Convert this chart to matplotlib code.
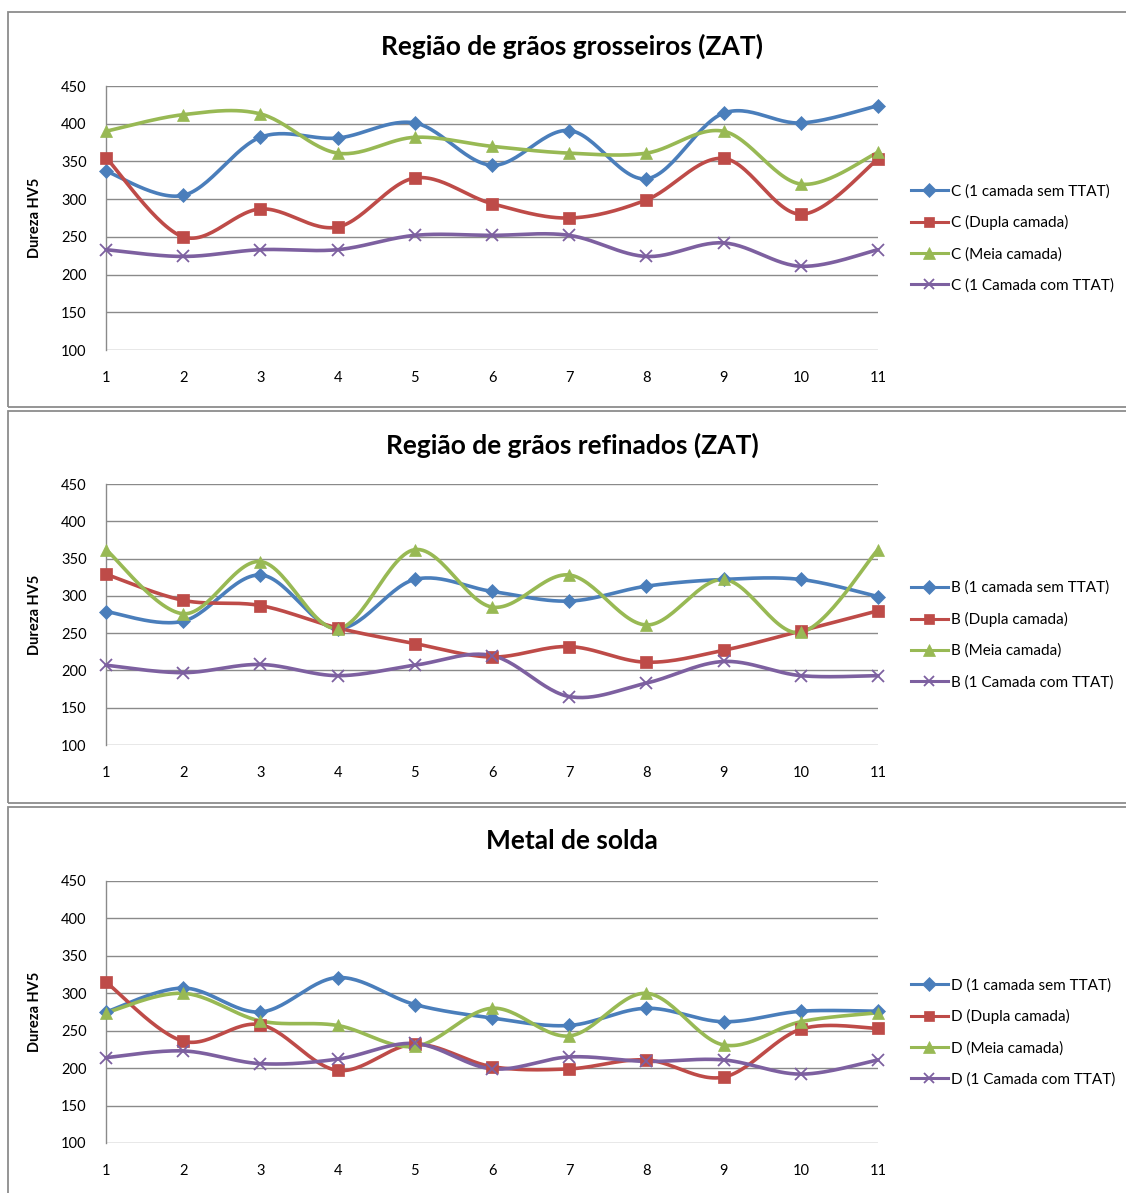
import numpy as np
import matplotlib
matplotlib.use('Agg')
import matplotlib.pyplot as plt
import matplotlib.patches as patches

plt.rcParams['font.family'] = ['Lato', 'DejaVu Sans']

pontos = np.arange(1, 12)

titulos = ['Região de grãos grosseiros (ZAT)',
           'Região de grãos refinados (ZAT)',
           'Metal de solda']
prefixos = ['C', 'B', 'D']
series_nomes = ['(1 camada sem TTAT)', '(Dupla camada)',
                '(Meia camada)', '(1 Camada com TTAT)']

# dureza HV5 - regiao de graos grosseiros (C)
c_sem_ttat = [337, 305, 382, 381, 401, 345, 391, 327, 414, 401, 424]
c_dupla = [355, 250, 287, 263, 328, 294, 275, 299, 354, 280, 353]
c_meia = [390, 412, 413, 361, 382, 370, 361, 361, 390, 320, 362]
c_com_ttat = [233, 224, 233, 233, 252, 252, 252, 224, 242, 211, 233]

# regiao de graos refinados (B)
b_sem_ttat = [279, 266, 328, 256, 322, 306, 293, 313, 322, 322, 299]
b_dupla = [329, 294, 287, 257, 236, 218, 232, 211, 227, 253, 280]
b_meia = [362, 276, 346, 256, 362, 285, 328, 261, 322, 251, 362]
b_com_ttat = [207, 197, 208, 193, 207, 220, 165, 183, 212, 193, 193]

# metal de solda (D)
d_sem_ttat = [275, 307, 275, 321, 285, 267, 257, 280, 262, 276, 276]
d_dupla = [315, 236, 258, 197, 232, 202, 199, 211, 188, 252, 253]
d_meia = [274, 300, 263, 257, 229, 280, 243, 300, 231, 262, 274]
d_com_ttat = [214, 223, 206, 212, 233, 199, 215, 209, 211, 192, 211]

dados = [[c_sem_ttat, c_dupla, c_meia, c_com_ttat],
         [b_sem_ttat, b_dupla, b_meia, b_com_ttat],
         [d_sem_ttat, d_dupla, d_meia, d_com_ttat]]

cores = ['#4A7EBB', '#BE4B48', '#98B954', '#7D60A0']
marcadores = ['D', 's', '^', 'x']
tam_marc = [7, 8, 8.5, 8]


def suaviza(x, y, n=30):
    # curva suavizada tipo excel (bezier com tensao 1/6)
    x = np.asarray(x, float)
    y = np.asarray(y, float)
    xs, ys = [], []
    t = np.linspace(0, 1, n)
    for i in range(len(x) - 1):
        i0 = max(i - 1, 0)
        i3 = min(i + 2, len(x) - 1)
        p0 = np.array([x[i], y[i]])
        p3 = np.array([x[i + 1], y[i + 1]])
        c1 = p0 + (p3 - np.array([x[i0], y[i0]])) / 6.0
        c2 = p3 - (np.array([x[i3], y[i3]]) - p0) / 6.0
        b = ((1 - t) ** 3)[:, None] * p0 + (3 * (1 - t) ** 2 * t)[:, None] * c1 \
            + (3 * (1 - t) * t ** 2)[:, None] * c2 + (t ** 3)[:, None] * p3
        xs.extend(b[:, 0])
        ys.extend(b[:, 1])
    return np.array(xs), np.array(ys)


W, H = 1126, 1193
fig = plt.figure(figsize=(W / 100, H / 100), dpi=100)

# caixas dos graficos (px): topo, base
caixas = [(12, 407), (411, 803), (807, 1200)]
# area de plotagem (px): topo, base
areas = [(86, 350), (484, 745), (881, 1143)]
x_esq, x_dir = 106, 878

for k in range(3):
    top, bot = caixas[k]
    rect = patches.Rectangle((8 / W, 1 - bot / H), (W + 20 - 8) / W, (bot - top) / H,
                             transform=fig.transFigure, fill=False,
                             edgecolor='#8c8c8c', linewidth=1.3, clip_on=False)
    fig.patches.append(rect)

    pt, pb = areas[k]
    ax = fig.add_axes([x_esq / W, 1 - pb / H, (x_dir - x_esq) / W, (pb - pt) / H])
    ax.set_xlim(1, 11)
    ax.set_ylim(100, 450)
    ax.set_yticks(np.arange(100, 451, 50))
    ax.set_xticks(pontos)
    ax.grid(axis='y', color='#8a8a8a', linewidth=1.0)
    ax.set_axisbelow(True)
    for s in ['top', 'right', 'bottom']:
        ax.spines[s].set_visible(False)
    ax.spines['left'].set_color('#8a8a8a')
    ax.spines['left'].set_linewidth(1.0)
    ax.tick_params(length=0, labelsize=10.5, colors='black')
    ax.tick_params(axis='y', pad=14)
    ax.tick_params(axis='x', pad=15)

    for j in range(4):
        sx, sy = suaviza(pontos, dados[k][j])
        ax.plot(sx, sy, color=cores[j], linewidth=2.6, clip_on=False,
                solid_capstyle='round', zorder=3)
        ax.plot(pontos, dados[k][j], linestyle='none', marker=marcadores[j],
                markersize=tam_marc[j], color=cores[j],
                markeredgewidth=1.3 if marcadores[j] == 'x' else 0.5,
                clip_on=False, zorder=4)
        # entrada da legenda
        ax.plot([], [], color=cores[j], linewidth=2.2, marker=marcadores[j],
                markersize=tam_marc[j] * 0.95,
                markeredgewidth=1.3 if marcadores[j] == 'x' else 0.5,
                label=prefixos[k] + ' ' + series_nomes[j])

    ax.set_ylabel('Dureza HV5', fontsize=10.5, fontweight='bold', labelpad=14)
    ax.yaxis.set_label_coords(-(x_esq - 42) / (x_dir - x_esq), 0.5)

    fig.text(572 / W, 1 - (caixas[k][0] + 34) / H, titulos[k], ha='center', va='center',
             fontsize=19, fontweight='bold')

    ycentro = (pt + pb) / 2 + 20.5
    ax.legend(loc='center left', bbox_to_anchor=(911 / W, 1 - ycentro / H),
              bbox_transform=fig.transFigure, frameon=False, fontsize=11,
              handlelength=2.4, handletextpad=0.25, labelspacing=1.1,
              borderpad=0, borderaxespad=0)

plt.savefig('out.png', dpi=100)
